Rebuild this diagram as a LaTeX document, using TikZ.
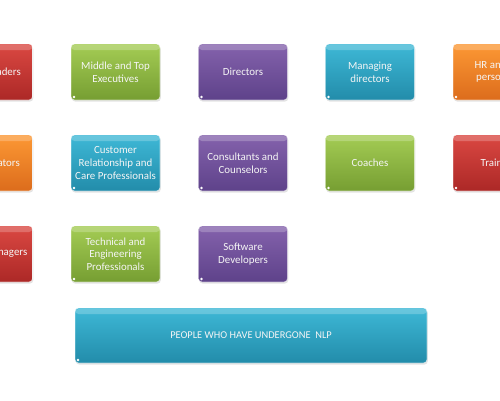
\documentclass[tikz,border=0pt]{standalone}
\usepackage{fontspec}
\setmainfont{Carlito}
\usetikzlibrary{shadows}
\definecolor{rT}{RGB}{218,72,66}\definecolor{rB}{RGB}{172,40,38}
\definecolor{gT}{RGB}{164,204,84}\definecolor{gB}{RGB}{118,158,50}
\definecolor{pT}{RGB}{132,98,172}\definecolor{pB}{RGB}{94,66,138}
\definecolor{cT}{RGB}{62,184,214}\definecolor{cB}{RGB}{34,140,170}
\definecolor{oT}{RGB}{252,152,52}\definecolor{oB}{RGB}{220,108,28}
\tikzset{
  box/.style={rounded corners=3.5pt, minimum width=89pt, minimum height=56pt,
    inner sep=1pt, align=center, text=white!92!gray,
    font=\fontsize{10.9}{12.7}\selectfont,
    draw=white, draw opacity=0.55, line width=0.8pt,
    drop shadow={opacity=0.22, shadow xshift=0.8pt, shadow yshift=-1.6pt},
    path picture={
      \fill[white,opacity=0.22] ([yshift=-1pt]path picture bounding box.north west) rectangle ([yshift=-6pt]path picture bounding box.north east);
      \fill[white] ([xshift=3pt,yshift=3pt]path picture bounding box.south west) circle (1.3pt);
    }},
  red/.style={box, top color=rT, bottom color=rB},
  grn/.style={box, top color=gT, bottom color=gB},
  pur/.style={box, top color=pT, bottom color=pB},
  cya/.style={box, top color=cT, bottom color=cB},
  ora/.style={box, top color=oT, bottom color=oB},
  lbl/.style={text=white!92!gray, font=\fontsize{10.9}{12.7}\selectfont, inner sep=0pt, align=left},
}
\begin{document}
\begin{tikzpicture}[x=1pt,y=-1pt]
\useasboundingbox (0,0) rectangle (500,400);
\clip (0,0) rectangle (500,400);
% row 1
\node[red] (a0) at (-12,72) {};
\node[lbl,anchor=east] (t0) at (21,72) {aders};
\node[grn] (a1) at (115.5,72) {Middle and Top\\Executives};
\node[pur] (a2) at (243,72) {Directors};
\node[cya] (a3) at (370,72) {Managing\\directors};
\node[ora] (a4) at (497.5,72) {};
\node[lbl,anchor=west] (t4) at (474.5,72) {HR an\\\hspace*{1.5pt}perso};
% row 2
\node[ora] (b0) at (-12,163) {};
\node[lbl,anchor=east] (u0) at (20,163) {ators};
\node[cya] (b1) at (115.5,163) {Customer\\Relationship and\\Care Professionals};
\node[pur] (b2) at (243,163) {Consultants and\\Counselors};
\node[grn] (b3) at (370,163) {Coaches};
\node[red] (b4) at (497.5,163) {};
\node[lbl,anchor=west] (u4) at (480.5,163) {Train};
% row 3
\node[red] (c0) at (-12,254) {};
\node[lbl,anchor=east] (v0) at (27.5,254) {nagers};
\node[grn] (c1) at (115.5,254) {Technical and\\Engineering\\Professionals};
\node[pur] (c2) at (243,254) {Software\\Developers};
% bottom
\node[cya, minimum width=352pt, minimum height=55pt, font=\fontsize{10.4}{12}\selectfont] (d) at (251,335.5) {PEOPLE WHO HAVE UNDERGONE\ \ NLP};
\end{tikzpicture}
\end{document}
